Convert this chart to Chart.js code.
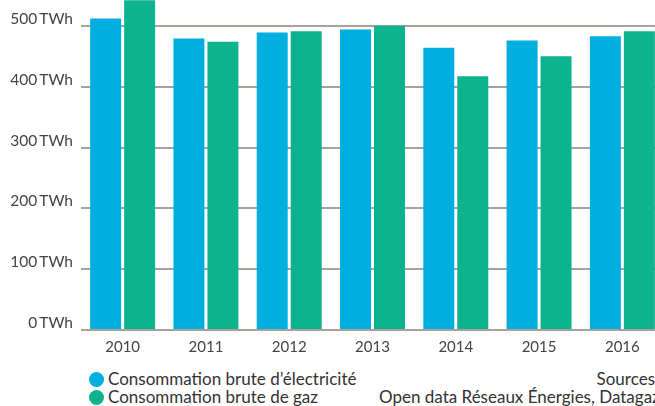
<!DOCTYPE html>
<html>
<head>
<meta charset="utf-8">
<script src="https://cdn.jsdelivr.net/npm/chart.js@4/dist/chart.umd.min.js"></script>
<style>
  html, body { margin: 0; padding: 0; background: #fff; overflow: hidden; width: 655px; height: 406px; }
  #wrap { position: absolute; left: 0; top: -17px; width: 664px; height: 383px; }
  #foot { position: absolute; left: 0; top: 369px; width: 655px; height: 37px; font-family: Lato, sans-serif; font-size: 17px; color: #333; overflow: hidden; }
  .leg { position: absolute; left: 89px; display: flex; align-items: center; white-space: nowrap; line-height: 18px; }
  .leg span.dot { display: inline-block; width: 15px; height: 15px; border-radius: 50%; margin-right: 4px; }
  .src { position: absolute; white-space: nowrap; line-height: 18px; }
</style>
</head>
<body>
<div id="wrap"><canvas id="chart1"></canvas></div>
<div id="foot">
  <div id="legend"></div>
  <div class="src" style="right:0; top:1px;">Sources</div>
  <div class="src" style="left:379px; top:19px;">Open data Réseaux Énergies, Datagaz</div>
</div>
<script>
// annees et consommations (TWh)
const years = ['2010', '2011', '2012', '2013', '2014', '2015', '2016'];
const elecValues = [512, 479, 489, 494, 464, 476, 483];
const gazValues = [550, 474, 491, 500, 417, 450, 491];
const seriesNames = ['Consommation brute d\u2019électricité', 'Consommation brute de gaz'];
const seriesColors = ['#00afe0', '#0db28e'];
const yTicks = [0, 100, 200, 300, 400, 500];

const fontName = 'Lato, "Open Sans", sans-serif';

var ctx = document.getElementById('chart1');
var myChart = new Chart(ctx, {
  type: 'bar',
  data: {
    labels: years,
    datasets: [
      { label: seriesNames[0], data: elecValues, backgroundColor: seriesColors[0] },
      { label: seriesNames[1], data: gazValues, backgroundColor: seriesColors[1] }
    ]
  },
  options: {
    responsive: true,
    maintainAspectRatio: false,
    animation: false,
    layout: { padding: { top: 0, right: 0, bottom: 2, left: 0 } },
    datasets: {
      bar: { categoryPercentage: 0.816, barPercentage: 0.912 }
    },
    plugins: {
      legend: { display: false },
      tooltip: { enabled: false }
    },
    scales: {
      x: {
        grid: { display: false, drawTicks: false },
        border: { display: false },
        ticks: { color: '#444', font: { family: fontName, size: 15 }, padding: 8 }
      },
      y: {
        min: 0,
        max: 542,
        afterBuildTicks: function (scale) {
          scale.ticks = yTicks.map(v => ({ value: v }));
        },
        afterFit: function (scale) {
          scale.width = 81;
        },
        grid: { color: '#a9a29a', lineWidth: 2, drawTicks: false },
        border: { display: false },
        ticks: {
          color: '#444',
          font: { family: fontName, size: 15.5 },
          padding: 8,
          labelOffset: -7,
          callback: function (v) { return v + '\u2009TWh'; }
        }
      }
    }
  }
});

// legende html
let legendBox = document.getElementById('legend');
myChart.data.datasets.forEach(function (ds, i) {
  let row = document.createElement('div');
  row.className = 'leg';
  row.style.top = (1 + i * 18) + 'px';
  row.innerHTML = `<span class="dot" style="background:${ds.backgroundColor}"></span>${ds.label}`;
  legendBox.appendChild(row);
});
</script>
</body>
</html>
